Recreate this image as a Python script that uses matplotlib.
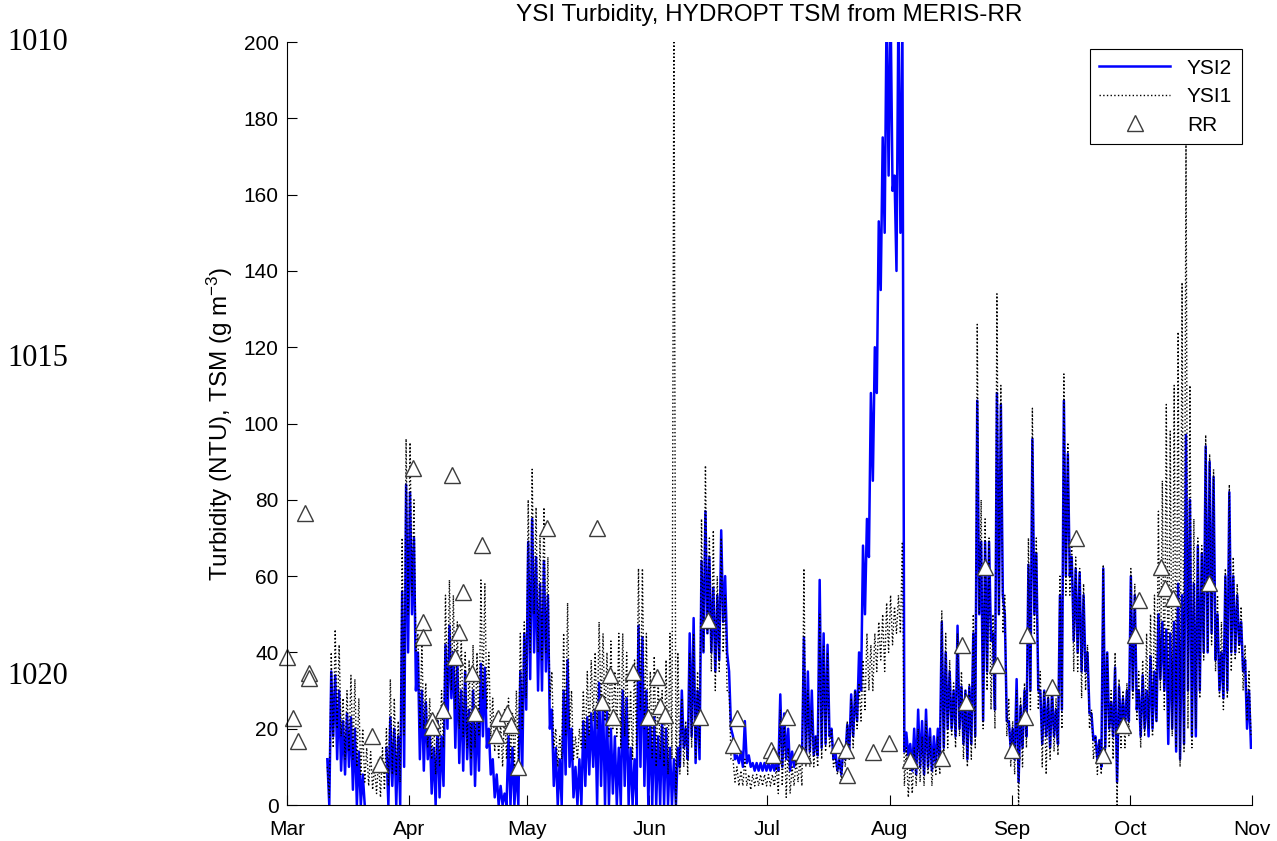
import numpy as np
import matplotlib
matplotlib.use("Agg")
import matplotlib.pyplot as plt

nan = np.nan

# day 0 = 1 March, one high and one low reading per day
ysi2_hi = [nan, nan, nan, nan, nan, nan, nan, nan, nan, nan,
           12, 35, 34, 30, 22, 24, 23, 20, 14, 8,
           nan, nan, nan, nan, nan, 15, 23, 20, 18, 56,
           84, 82, 70, 40, 30, 27, 20, 15, 22, 18,
           42, 47, 40, 38, 30, 35, 25, 30, 24, 37,
           36, 20, 12, 8, 5, 3, 18, 15, 10, 35,
           45, 69, 75, 65, 58, 64, 55, 25, 15, 12,
           30, 38, 20, 10, 12, 22, 23, 24, 25, 32,
           28, 25, 20, 18, 15, 30, 28, 15, 12, 47,
           44, 30, 22, 23, 18, 22, 20, 15, 12, 15,
           30, 20, 45, 49, 30, 64, 77, 65, 57, 55,
           72, 60, 35, 18, 13, 14, 22, 13, 11, 11,
           11, 11, 11, 11, 12, 29, 24, 20, 14, 13,
           14, 44, 35, 30, 18, 59, 45, 42, 20, 14,
           12, 15, 21, 29, 30, 40, 68, 75, 108, 120,
           153, 175, 210, 210, 165, 210, 205, 19, 16, 20,
           25, 22, 25, 20, 18, 20, 48, 40, 35, 30,
           47, 31, 30, 31, 45, 106, 69, 69, 69, 45,
           108, 105, 50, 22, 20, 33, 26, 30, 63, 96,
           66, 30, 30, 28, 30, 25, 55, 106, 92, 65,
           62, 61, 55, 40, 24, 18, 17, 62, 40, 27,
           36, 31, 28, 30, 60, 55, 30, 34, 30, 39,
           35, 50, 48, 46, 45, 48, 58, 55, 97, 80,
           58, 68, 66, 94, 90, 86, 50, 40, 60, 82,
           60, 55, 48, 38, 30]
ysi2_lo = [nan, nan, nan, nan, nan, nan, nan, nan, nan, nan,
           0, 18, 12, 9, 8, 10, 4, 0, 0, 0,
           nan, nan, nan, nan, nan, 0, 5, 0, 0, 10,
           40, 50, 30, 12, 9, 12, 3, 0, 2, 5,
           20, 28, 15, 11, 9, 12, 8, 5, 9, 18,
           15, 8, 2, 0, 0, 0, 0, 0, 0, 10,
           25, 33, 40, 30, 30, 35, 20, 5, 0, 0,
           8, 10, 2, 0, 0, 5, 8, 10, 0, 5,
           0, 0, 3, 0, 0, 5, 0, 0, 0, 10,
           5, 0, 0, 0, 0, 0, 0, 0, 0, 10,
           15, 12, 18, 11, 12, 40, 45, 40, 35, 38,
           48, 40, 20, 12, 11, 10, 11, 10, 9, 9,
           9, 9, 9, 9, 9, 10, 12, 9, 10, 11,
           11, 12, 14, 13, 13, 15, 16, 18, 12, 9,
           8, 12, 14, 18, 22, 30, 50, 65, 85, 108,
           135, 150, 165, 161, 140, 150, 14, 13, 9, 8,
           10, 8, 10, 9, 10, 12, 15, 20, 20, 18,
           20, 16, 12, 16, 18, 50, 22, 35, 43, 25,
           50, 55, 22, 15, 12, 6, 15, 18, 30, 50,
           30, 16, 18, 15, 18, 16, 25, 60, 60, 43,
           40, 35, 35, 24, 17, 12, 10, 15, 20, 18,
           6, 20, 20, 22, 30, 25, 18, 20, 18, 20,
           22, 33, 30, 16, 20, 14, 12, 16, 30, 18,
           18, 30, 40, 40, 45, 38, 30, 28, 30, 40,
           40, 42, 35, 20, 15]

ysi1_hi = [nan, nan, nan, nan, nan, nan, nan, nan, nan, nan,
           10, 40, 46, 42, 28, 30, 34, 33, 28, 20,
           15, 14, 10, 12, 15, 20, 33, 28, 22, 70,
           96, 95, 80, 45, 42, 32, 28, 22, 24, 30,
           55, 59, 55, 48, 45, 40, 38, 42, 40, 59,
           58, 40, 28, 24, 22, 25, 28, 24, 30, 45,
           48, 80, 88, 78, 70, 78, 65, 35, 20, 18,
           45, 53, 30, 18, 20, 30, 35, 38, 40, 48,
           45, 40, 43, 35, 45, 45, 40, 30, 38, 62,
           62, 45, 35, 39, 33, 30, 38, 45, 210, 40,
           28, 22, 40, 45, 35, 75, 89, 70, 72, 60,
           70, 55, 30, 12, 10, 9, 12, 8, 8, 8,
           8, 8, 8, 8, 10, 25, 22, 15, 10, 12,
           12, 62, 30, 25, 18, 50, 42, 40, 20, 12,
           12, 15, 22, 28, 30, 32, 38, 45, 42, 45,
           48, 50, 53, 55, 52, 55, 69, 15, 12, 15,
           20, 18, 22, 18, 15, 18, 51, 45, 38, 32,
           45, 35, 30, 32, 50, 126, 80, 75, 70, 50,
           134, 110, 55, 28, 22, 30, 28, 32, 70, 104,
           70, 35, 30, 30, 32, 28, 60, 113, 95, 70,
           65, 62, 58, 42, 25, 18, 17, 63, 40, 30,
           40, 33, 30, 32, 62, 58, 35, 38, 45, 50,
           55, 77, 85, 105, 98, 110, 124, 137, 174, 110,
           75, 70, 68, 97, 92, 88, 55, 48, 62, 84,
           65, 58, 52, 42, 35]
ysi1_lo = [nan, nan, nan, nan, nan, nan, nan, nan, nan, nan,
           2, 15, 20, 18, 12, 14, 12, 10, 8, 6,
           5, 4, 3, 2, 4, 5, 8, 8, 6, 18,
           50, 55, 40, 20, 20, 15, 12, 8, 10, 15,
           28, 30, 25, 20, 18, 15, 12, 15, 18, 28,
           25, 18, 14, 12, 10, 12, 12, 10, 12, 20,
           28, 40, 50, 40, 38, 40, 28, 15, 10, 12,
           18, 20, 12, 12, 15, 15, 18, 22, 20, 25,
           22, 18, 20, 18, 15, 18, 15, 12, 15, 25,
           20, 15, 12, 10, 12, 10, 8, 12, 0, 8,
           10, 8, 15, 12, 15, 40, 45, 35, 30, 35,
           40, 30, 12, 6, 5, 5, 5, 4, 5, 5,
           5, 5, 5, 5, 3, 5, 2, 3, 5, 6,
           5, 10, 10, 10, 10, 12, 14, 15, 10, 8,
           6, 10, 12, 15, 20, 22, 25, 30, 30, 35,
           38, 35, 40, 42, 45, 45, 5, 2, 3, 5,
           6, 5, 8, 5, 8, 8, 12, 15, 18, 15,
           18, 12, 10, 12, 15, 50, 20, 30, 25, 20,
           50, 45, 18, 10, 8, 0, 10, 15, 25, 45,
           25, 10, 8, 12, 14, 13, 20, 55, 55, 35,
           35, 28, 30, 20, 12, 8, 8, 12, 15, 12,
           0, 15, 15, 18, 28, 22, 15, 18, 20, 18,
           22, 30, 25, 20, 18, 15, 10, 14, 20, 15,
           20, 28, 38, 40, 42, 35, 28, 25, 28, 35,
           38, 40, 30, 22, 18]

# MERIS-RR retrievals (day, TSM)
rr_day = [0, 1.5, 2.8, 4.6, 5.6, 5.6, 21.6, 23.6,
          32, 34.5, 34.5, 36.8, 36.8, 39.6, 41.9, 42.7, 43.7, 44.7, 47, 47.7, 49.5,
          53, 53.6, 55.8, 57, 58.6, 66, 78.7, 80, 82, 82.8, 87.8, 91.6, 94, 94.7, 96,
          104.8, 107, 113.2, 114.2, 123, 123.3, 127, 130, 131, 139.9, 142, 142.2,
          148.8, 152.9, 158.2, 166.3, 171.4, 172.4, 177.2, 180.2, 184.2, 187.4,
          187.9, 194.2, 200.3, 207.2, 212.3, 215.3, 216.3, 222, 222.9, 225, 234]
rr_val = [38.8, 22.8, 16.8, 76.5, 34.6, 33.3, 18, 10.7,
          88.3, 48, 44, 22.3, 20.4, 24.9, 86.5, 38.8, 45.3, 55.8, 34.6, 24.1, 68.2,
          18.3, 22.8, 24.1, 21, 10, 72.6, 72.6, 27, 34, 23, 34.9, 23, 33.6, 26, 23.6,
          23, 48.5, 15.7, 22.8, 14.4, 13, 23, 14, 13, 15.7, 14.4, 7.9,
          14, 16.2, 11.8, 12.3, 41.9, 27, 62.4, 36.7, 14.5, 23,
          44.6, 31, 70, 13.1, 21, 44.6, 53.7, 62.4, 56.9, 54.3, 58.2]

month_days = [0, 31, 61, 92, 122, 153, 184, 214, 245]
month_labels = ["Mar", "Apr", "May", "Jun", "Jul", "Aug", "Sep", "Oct", "Nov"]


def series(hi, lo):
    d = np.arange(len(hi))
    t = np.column_stack([d + 0.25, d + 0.75]).ravel()
    v = np.column_stack([hi, lo]).ravel()
    return t, v


plt.rcParams["font.family"] = ["Liberation Sans", "DejaVu Sans"]
plt.rcParams["mathtext.default"] = "regular"

fig = plt.figure(figsize=(12.77, 8.41), dpi=100)
ax = fig.add_axes([0.2247, 0.0428, 0.7557, 0.9072])

t2, v2 = series(ysi2_hi, ysi2_lo)
t1, v1 = series(ysi1_hi, ysi1_lo)
ax.plot(t2, v2, color="#0000ff", lw=1.8, label="YSI2")
ax.plot(t1, v1, color="black", lw=1.0, ls=":", label="YSI1")
ax.plot(rr_day, rr_val, ls="none", marker="^", ms=11, mfc="white",
        mec="#3c3c3c", mew=1.0, label="RR", clip_on=False)

ax.set_xlim(0, 245)
ax.set_ylim(0, 200)
ax.set_xticks(month_days)
ax.set_xticklabels(month_labels)
ax.set_yticks(range(0, 201, 20))
ax.tick_params(direction="in", length=7, width=0.8, labelsize=15)
ax.tick_params(axis="y", pad=6)
ax.tick_params(axis="x", pad=11)
ax.spines["top"].set_visible(False)
ax.spines["right"].set_visible(False)

ax.set_title("YSI Turbidity, HYDROPT TSM from MERIS-RR", fontsize=17.5, pad=15)
ax.set_ylabel(r"Turbidity (NTU), TSM (g m$^{-3}$)", fontsize=17.5, labelpad=6)

leg = ax.legend(loc="upper right", bbox_to_anchor=(1.0, 1.004), fontsize=15,
                fancybox=False, framealpha=1, edgecolor="black",
                handlelength=3.4, borderpad=0.45, labelspacing=0.45)
leg.get_frame().set_linewidth(0.8)

# line numbers of the manuscript page
serif = dict(fontfamily="Liberation Serif", fontsize=22, va="center", ha="left")
fig.text(0.006, 1 - 43 / 841, "1010", **serif)
fig.text(0.006, 1 - 358 / 841, "1015", **serif)
fig.text(0.006, 1 - 677 / 841, "1020", **serif)

fig.savefig("out.png", dpi=100)
